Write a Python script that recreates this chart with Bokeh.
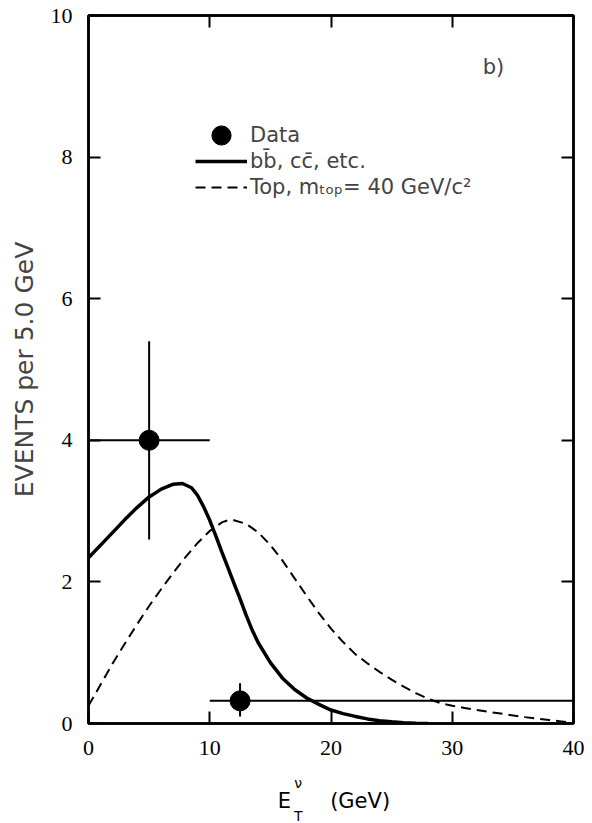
from bokeh.plotting import figure
from bokeh.layouts import column
from bokeh.models import Range1d, LinearAxis, FixedTicker, Legend, LegendItem, Label
from bokeh.core.properties import value
from bokeh.embed import file_html
from bokeh.resources import INLINE

# ---- data ----
data_x = [5.0, 12.5]
data_y = [4.0, 0.32]
data_xlo = [0.0, 10.0]
data_xhi = [10.0, 40.0]
data_ylo = [2.6, 0.1]
data_yhi = [5.4, 0.57]

bg_x = [0, 1, 2, 3, 4, 5, 6, 7, 7.75, 8.5, 9, 9.5, 10, 10.5, 11, 11.5, 12, 12.5, 13, 13.5,
        14, 15, 16, 17, 18, 19, 20, 21, 22, 23, 24, 25, 26, 27, 28]
bg_y = [2.34, 2.52, 2.70, 2.88, 3.05, 3.20, 3.31, 3.38, 3.39, 3.33, 3.22, 3.06, 2.87, 2.65,
        2.42, 2.20, 1.98, 1.76, 1.53, 1.32, 1.14, 0.86, 0.64, 0.48, 0.36, 0.27, 0.19, 0.14,
        0.10, 0.065, 0.04, 0.025, 0.012, 0.004, 0.0]

top_x = [0, 1, 2, 3, 4, 5, 6, 7, 8, 9, 10, 11, 11.5, 12, 13, 14, 15, 16, 17, 18, 19, 20,
         21, 22, 23, 24, 25, 26, 27, 28, 29, 30, 31, 32, 34, 36, 38, 39, 40]
top_y = [0.25, 0.55, 0.85, 1.13, 1.40, 1.66, 1.90, 2.13, 2.35, 2.55, 2.72, 2.84, 2.87, 2.87,
         2.82, 2.70, 2.52, 2.30, 2.05, 1.80, 1.56, 1.34, 1.15, 0.98, 0.85, 0.73, 0.62, 0.52,
         0.43, 0.35, 0.29, 0.25, 0.22, 0.19, 0.14, 0.09, 0.05, 0.03, 0.01]

x_ticks = [0, 10, 20, 30, 40]
y_ticks = [0, 2, 4, 6, 8, 10]

legend_labels = ["Data", "bb\u0304, cc\u0304, etc.", "Top, m\u209c\u2092\u209a= 40 GeV/c\u00b2"]
y_title = "EVENTS per 5.0 GeV"
panel_tag = "b)"
x_title_parts = ["E", "\u03bd", "T", "(GeV)"]

TXT = "DejaVu Sans"
NUM = "Liberation Sans Narrow"

p = figure(width=592, height=770, x_range=Range1d(0, 40), y_range=Range1d(0, 10),
           output_backend="svg", toolbar_location=None,
           min_border_left=88, min_border_right=19, min_border_top=15, min_border_bottom=47)
p.xgrid.grid_line_color = None
p.ygrid.grid_line_color = None
p.outline_line_color = "black"
p.outline_line_width = 2.5
p.background_fill_color = "white"
p.border_fill_color = "white"

for ax, ticks in ((p.xaxis, x_ticks), (p.yaxis, y_ticks)):
    ax.ticker = FixedTicker(ticks=ticks)
    ax.major_tick_in = 12
    ax.major_tick_out = 0
    ax.major_tick_line_width = 2
    ax.minor_tick_line_color = None
    ax.axis_line_width = 2.5
    ax.major_label_text_font = NUM
    ax.major_label_text_font_size = "22px"
    ax.major_label_text_color = "black"
p.xaxis.major_label_standoff = 17
p.yaxis.major_label_standoff = 16

p.yaxis.axis_label = y_title
p.yaxis.axis_label_text_font = TXT
p.yaxis.axis_label_text_font_size = "25px"
p.yaxis.axis_label_text_font_style = "normal"
p.yaxis.axis_label_standoff = 9

ra = LinearAxis(ticker=FixedTicker(ticks=y_ticks),
                major_label_overrides={t: "" for t in y_ticks},
                major_tick_in=12, major_tick_out=0, major_tick_line_width=2,
                minor_tick_line_color=None, axis_line_width=2.5, major_label_standoff=0)
p.add_layout(ra, "right")
ta = LinearAxis(ticker=FixedTicker(ticks=x_ticks),
                major_label_overrides={t: "" for t in x_ticks},
                major_tick_in=12, major_tick_out=0, major_tick_line_width=2,
                minor_tick_line_color=None, axis_line_width=2.5, major_label_standoff=0)
p.add_layout(ta, "above")

l1 = p.line(bg_x, bg_y, line_color="black", line_width=3.5)
l2 = p.line(top_x, top_y, line_color="black", line_width=2, line_dash="10 6")

p.segment(x0=data_xlo, y0=data_y, x1=data_xhi, y1=data_y, line_color="black", line_width=2)
p.segment(x0=data_x, y0=data_ylo, x1=data_x, y1=data_yhi, line_color="black", line_width=2)
sc = p.scatter(data_x, data_y, marker="circle", size=20, fill_color="black", line_color="black")

legend_a = Legend(items=[LegendItem(label=legend_labels[0], renderers=[sc])],
                  location=(107, 564), border_line_color=None, background_fill_alpha=0,
                  padding=0, margin=0, spacing=0, glyph_width=52, glyph_height=48,
                  label_height=48, label_standoff=3, label_text_font=TXT,
                  label_text_font_size="21px")
legend_b = Legend(items=[LegendItem(label=legend_labels[1], renderers=[l1]),
                         LegendItem(label=legend_labels[2], renderers=[l2])],
                  location=(107, 523), border_line_color=None, background_fill_alpha=0,
                  padding=0, margin=0, spacing=0, glyph_width=52, glyph_height=26,
                  label_height=26, label_standoff=3, label_text_font=TXT,
                  label_text_font_size="21px")
p.add_layout(legend_a)
p.add_layout(legend_b)

p.add_layout(Label(x=33.4, y=9.27, text=panel_tag, text_font=TXT, text_font_size="21px",
                   text_align="center", text_baseline="middle"))

# ---- strip below for the x-axis title (canvas-pixel y scale) ----
q = figure(width=592, height=53, x_range=p.x_range, y_range=Range1d(823, 770),
           output_backend="svg", toolbar_location=None,
           min_border_left=88, min_border_right=19, min_border_top=0, min_border_bottom=0)
q.xaxis.visible = False
q.yaxis.visible = False
q.xgrid.grid_line_color = None
q.ygrid.grid_line_color = None
q.outline_line_color = None
q.background_fill_color = "white"
q.border_fill_color = "white"

q.text(x=[16.16], y=[800], text=[x_title_parts[0]], text_font=value(TXT),
       text_font_size="21px", text_align="center", text_baseline="middle", text_color="black")
q.text(x=[17.3, 17.3], y=[782, 815], text=[x_title_parts[1], x_title_parts[2]],
       text_font=value(TXT), text_font_size="14px", text_align="center",
       text_baseline="middle", text_color="black")
q.text(x=[22.4], y=[800], text=[x_title_parts[3]], text_font=value(TXT),
       text_font_size="21px", text_align="center", text_baseline="middle", text_color="black")

layout = column(p, q, spacing=0)
open("out.html", "w").write(file_html(layout, INLINE))
